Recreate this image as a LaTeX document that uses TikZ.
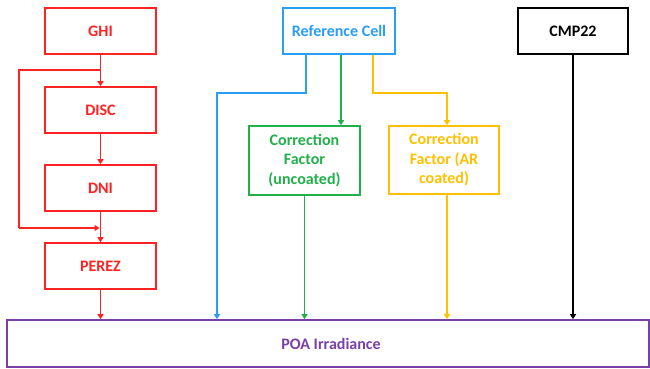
\documentclass[tikz,border=0pt]{standalone}
\usepackage{fontspec}
\setmainfont{Carlito}
\usetikzlibrary{arrows.meta,calc}
\definecolor{cred}{HTML}{FF2222}
\definecolor{cblue}{HTML}{2A9DF4}
\definecolor{cgreen}{HTML}{22B04B}
\definecolor{cyel}{HTML}{FFC000}
\definecolor{cpurp}{HTML}{7B3FA8}
\tikzset{
  box/.style={draw=#1, text=#1, line width=1.6pt, fill=white, align=center, inner sep=0pt,
    font=\fontsize{16}{19.5}\selectfont\bfseries},
  conn/.style={line width=1.4pt, -{Triangle[length=5pt,width=6pt]}},
  plain/.style={line width=1.4pt}
}
\begin{document}
\begin{tikzpicture}[x=1pt,y=-1pt]
\useasboundingbox (0,0) rectangle (650,369);
% red chain
\node[box=cred, minimum width=111pt, minimum height=46pt] (ghi) at (100.5,31) {GHI};
\node[box=cred, minimum width=111pt, minimum height=46pt] (disc) at (100.5,110) {DISC};
\node[box=cred, minimum width=111pt, minimum height=46pt] (dni) at (100.5,188) {DNI};
\node[box=cred, minimum width=111pt, minimum height=46pt] (perez) at (100.5,266) {PEREZ};
% top boxes
\node[box=cblue, minimum width=112pt, minimum height=46pt] (refc) at (339,31) {Reference Cell};
\node[box=black, minimum width=110pt, minimum height=46pt] (cmp) at (573,31) {CMP22};
% correction boxes
\node[box=cgreen, minimum width=111pt, minimum height=69pt] (cfu) at (304.5,160.5) {Correction\\Factor\\(uncoated)};
\node[box=cyel, minimum width=110pt, minimum height=68pt] (cfa) at (444,160) {Correction\\Factor (AR\\coated)};
% POA
\node[box=cpurp, minimum width=642pt, minimum height=47pt] (poa) at (328,343.5) {};
\node[text=cpurp, font=\fontsize{16}{19.5}\selectfont\bfseries] (poatxt) at (331,344) {POA Irradiance};
% coordinates
\coordinate (split) at (100.5,70);
\coordinate (lt) at (19,70);
\coordinate (lb) at (19,228);
\coordinate (mrg) at (100.5,228);
\coordinate (bx) at (217,93);
\coordinate (by) at (306,93);
\coordinate (yx) at (373,93);
\coordinate (yy) at (447,93);
% red connectors
\draw[conn, cred] (ghi.south) -- (disc.north);
\draw[plain, cred] (split) -- (lt) -- (lb);
\draw[conn, cred] (lb) -- ($(mrg)+(-1,0)$);
\draw[conn, cred] (disc.south) -- (dni.north);
\draw[conn, cred] (dni.south) -- (perez.north);
\draw[conn, cred] (perez.south) -- (poa.north -| perez.south);
% blue
\draw[conn, cblue] (refc.south -| by) -- (by) -- (bx) -- (poa.north -| bx);
% green
\draw[conn, cgreen] (refc.south -| 341,0) -- (cfu.north -| 341,0);
\draw[conn, cgreen] (cfu.south) -- (poa.north -| cfu.south);
% yellow
\draw[conn, cyel] (refc.south -| yx) -- (yx) -- (yy) -- (cfa.north -| yy);
\draw[conn, cyel] (cfa.south -| yy) -- (poa.north -| yy);
% black
\draw[conn, black] (cmp.south) -- (poa.north -| cmp.south);
\end{tikzpicture}
\end{document}
